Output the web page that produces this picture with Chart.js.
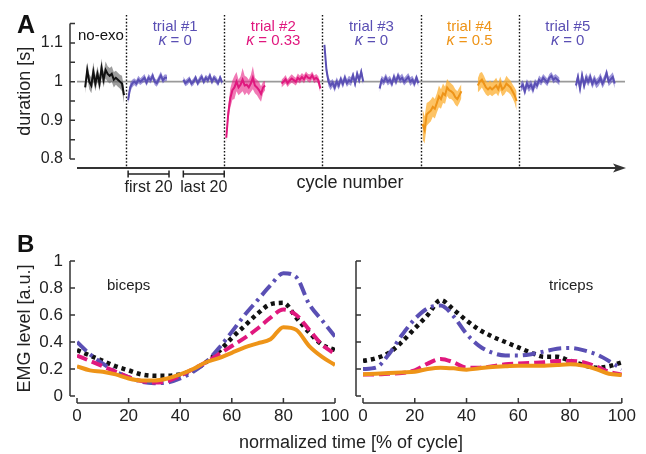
<!DOCTYPE html>
<html>
<head>
<meta charset="utf-8">
<script src="https://cdn.jsdelivr.net/npm/chart.js@4.4.1/dist/chart.umd.min.js"></script>
<style>
  html, body { margin: 0; padding: 0; background: #fff; }
  #wrap { position: relative; width: 646px; height: 454px; }
  canvas { position: absolute; left: 0; top: 0; }
</style>
</head>
<body>
<div id="wrap">
  <canvas id="cycleChart" width="646" height="454"></canvas>
  <canvas id="bicepsChart" width="646" height="454"></canvas>
  <canvas id="tricepsChart" width="646" height="454"></canvas>
</div>
<script>
// ---- cycle durations (panel A) ----
// every trial block is 48 cycle slots wide: first 20 cycles, a gap, last 20 cycles
const trialStarts = [24, 72, 120, 168, 216];
const trialNames = ['trial #1', 'trial #2', 'trial #3', 'trial #4', 'trial #5'];
const trialKappa = ['0', '0.33', '0', '0.5', '0'];

const noExoMean = [0.985, 1.03, 1.0, 0.99, 1.025, 0.995, 1.02, 0.995, 1.035, 1.005, 1.03, 1.02, 1.015, 1.02, 1.005, 1.01, 1.005, 1.0, 0.995, 0.965];
const noExoSpread = [0.015, 0.02, 0.02, 0.02, 0.025, 0.02, 0.02, 0.02, 0.025, 0.02, 0.022, 0.02, 0.02, 0.02, 0.02, 0.018, 0.018, 0.018, 0.02, 0.02];

const t1FirstMean = [0.952, 0.985, 0.995, 1.0, 0.995, 1.005, 1.0, 1.005, 1.01, 0.998, 1.01, 1.004, 1.015, 1.0, 0.996, 1.006, 1.016, 1.004, 1.01, 1.01];
const t1FirstSpread = [0.01, 0.012, 0.01, 0.009, 0.009, 0.01, 0.009, 0.009, 0.01, 0.009, 0.01, 0.009, 0.01, 0.009, 0.009, 0.01, 0.01, 0.009, 0.009, 0.008];
const t1LastMean = [1.005, 0.996, 1.0, 1.006, 0.995, 1.0, 1.01, 0.996, 1.005, 1.012, 1.0, 1.01, 1.004, 1.015, 1.0, 1.01, 1.004, 0.996, 1.01, 0.998];
const t1LastSpread = [0.008, 0.008, 0.009, 0.008, 0.008, 0.009, 0.008, 0.008, 0.009, 0.009, 0.008, 0.008, 0.009, 0.009, 0.008, 0.008, 0.009, 0.008, 0.008, 0.008];

const t2FirstMean = [0.855, 0.92, 0.958, 0.978, 0.985, 1.0, 0.985, 0.992, 1.005, 0.99, 0.992, 0.985, 0.995, 1.01, 0.99, 0.985, 0.978, 0.968, 0.985, 0.99];
const t2FirstSpread = [0.012, 0.02, 0.025, 0.025, 0.03, 0.025, 0.02, 0.022, 0.03, 0.025, 0.02, 0.02, 0.022, 0.03, 0.02, 0.02, 0.022, 0.02, 0.015, 0.012];
const t2LastMean = [0.995, 1.0, 1.006, 0.996, 1.003, 1.008, 1.004, 1.0, 1.01, 1.005, 1.012, 1.006, 1.016, 1.01, 1.008, 1.016, 1.006, 1.01, 1.004, 0.982];
const t2LastSpread = [0.01, 0.01, 0.011, 0.01, 0.01, 0.011, 0.01, 0.01, 0.011, 0.01, 0.01, 0.011, 0.01, 0.01, 0.011, 0.01, 0.01, 0.01, 0.01, 0.012];

const t3FirstMean = [1.095, 1.03, 1.0, 0.99, 0.997, 0.985, 1.0, 0.99, 1.006, 0.994, 1.01, 0.996, 1.004, 1.0, 1.016, 0.995, 1.02, 1.004, 1.025, 1.0];
const t3FirstSpread = [0.008, 0.012, 0.012, 0.012, 0.01, 0.012, 0.011, 0.011, 0.01, 0.011, 0.011, 0.01, 0.011, 0.011, 0.01, 0.011, 0.011, 0.01, 0.011, 0.01];
const t3LastMean = [0.982, 1.005, 1.0, 1.01, 1.0, 1.005, 0.995, 1.012, 1.0, 1.015, 1.005, 1.01, 1.0, 1.006, 1.012, 1.0, 1.005, 0.995, 1.01, 0.996];
const t3LastSpread = [0.01, 0.01, 0.01, 0.011, 0.01, 0.01, 0.01, 0.011, 0.01, 0.01, 0.01, 0.011, 0.01, 0.01, 0.01, 0.011, 0.01, 0.01, 0.01, 0.01];

const t4FirstMean = [0.89, 0.875, 0.915, 0.92, 0.925, 0.935, 0.93, 0.945, 0.962, 0.955, 0.97, 0.965, 0.985, 0.978, 0.975, 0.97, 0.96, 0.955, 0.965, 0.975];
const t4FirstSpread = [0.04, 0.035, 0.03, 0.028, 0.028, 0.026, 0.025, 0.025, 0.028, 0.025, 0.025, 0.022, 0.022, 0.022, 0.02, 0.02, 0.02, 0.02, 0.02, 0.018];
const t4LastMean = [0.99, 1.0, 1.005, 0.995, 0.985, 0.98, 0.985, 0.98, 0.985, 0.99, 0.98, 0.995, 0.98, 0.985, 0.995, 0.99, 0.985, 0.975, 0.965, 0.95];
const t4LastSpread = [0.018, 0.022, 0.02, 0.02, 0.018, 0.018, 0.018, 0.018, 0.018, 0.02, 0.018, 0.018, 0.018, 0.018, 0.02, 0.018, 0.018, 0.018, 0.02, 0.025];

const t5FirstMean = [0.985, 0.992, 0.975, 0.995, 0.985, 0.992, 0.98, 0.996, 0.99, 1.005, 1.0, 1.01, 1.004, 0.998, 1.01, 1.015, 1.005, 1.01, 1.005, 1.0];
const t5FirstSpread = [0.012, 0.012, 0.012, 0.012, 0.012, 0.012, 0.012, 0.011, 0.011, 0.011, 0.01, 0.01, 0.01, 0.01, 0.01, 0.01, 0.01, 0.01, 0.01, 0.01];
const t5LastMean = [0.99, 1.012, 0.982, 1.016, 0.99, 1.01, 1.0, 1.012, 0.994, 1.006, 0.995, 1.0, 1.01, 0.995, 1.005, 1.022, 1.0, 1.006, 1.012, 0.995];
const t5LastSpread = [0.012, 0.012, 0.012, 0.012, 0.012, 0.012, 0.012, 0.012, 0.012, 0.012, 0.012, 0.012, 0.012, 0.012, 0.012, 0.012, 0.012, 0.012, 0.012, 0.012];

// ---- EMG envelopes (panel B), sampled every 5 % of the cycle ----
const cyclePct = [0, 5, 10, 15, 20, 25, 30, 35, 40, 45, 50, 55, 60, 65, 70, 75, 80, 85, 90, 95, 100];

const bicepsNoExo = [0.34, 0.30, 0.26, 0.22, 0.19, 0.16, 0.15, 0.15, 0.16, 0.19, 0.25, 0.33, 0.43, 0.52, 0.61, 0.68, 0.69, 0.58, 0.47, 0.38, 0.34];
const bicepsK0 = [0.40, 0.31, 0.24, 0.18, 0.14, 0.105, 0.095, 0.10, 0.13, 0.18, 0.25, 0.355, 0.475, 0.60, 0.71, 0.82, 0.91, 0.88, 0.68, 0.56, 0.44];
const bicepsK033 = [0.30, 0.26, 0.22, 0.18, 0.14, 0.11, 0.10, 0.11, 0.15, 0.20, 0.25, 0.31, 0.37, 0.43, 0.50, 0.58, 0.64, 0.60, 0.49, 0.38, 0.31];
const bicepsK05 = [0.22, 0.19, 0.18, 0.16, 0.13, 0.115, 0.115, 0.13, 0.16, 0.20, 0.25, 0.28, 0.32, 0.36, 0.39, 0.42, 0.51, 0.49, 0.37, 0.29, 0.23];

const tricepsNoExo = [0.26, 0.28, 0.32, 0.40, 0.50, 0.60, 0.71, 0.64, 0.56, 0.49, 0.44, 0.40, 0.36, 0.32, 0.29, 0.29, 0.26, 0.23, 0.21, 0.22, 0.25];
const tricepsK0 = [0.20, 0.21, 0.31, 0.45, 0.57, 0.65, 0.67, 0.59, 0.46, 0.37, 0.32, 0.30, 0.30, 0.31, 0.33, 0.35, 0.355, 0.34, 0.31, 0.26, 0.20];
const tricepsK033 = [0.16, 0.16, 0.165, 0.17, 0.19, 0.24, 0.275, 0.25, 0.21, 0.21, 0.22, 0.235, 0.24, 0.245, 0.25, 0.26, 0.26, 0.25, 0.22, 0.18, 0.16];
const tricepsK05 = [0.16, 0.165, 0.17, 0.175, 0.18, 0.20, 0.21, 0.205, 0.195, 0.205, 0.215, 0.22, 0.225, 0.225, 0.225, 0.23, 0.235, 0.225, 0.20, 0.165, 0.155];

const FONT = "'Liberation Sans', Arial, Helvetica, sans-serif";
const INK = '#222';
const AXIS = '#333';
const PURPLE = '#5a4fb4';
const PINK = '#e0187e';
const ORANGE = '#ee9418';
const BAND = {
  black: 'rgba(105,105,105,0.65)',
  purple: 'rgba(100,88,195,0.62)',
  pink: 'rgba(230,40,135,0.62)',
  orange: 'rgba(252,172,40,0.72)'
};
Chart.defaults.font.family = FONT;
Chart.defaults.color = INK;

function segment(mean, spread, start, line, band) {
  const pts = f => mean.map((v, i) => ({ x: start + i, y: f(v, spread[i]) }));
  return [
    { data: pts((v, s) => v + s), borderWidth: 0, pointRadius: 0, backgroundColor: band, fill: '+1', order: 3 },
    { data: pts((v, s) => v - s), borderWidth: 0, pointRadius: 0, fill: false, order: 3 },
    { data: pts(v => v), borderColor: line, borderWidth: 2, pointRadius: 0, fill: false, order: 1 }
  ];
}

const trialColors = [PURPLE, PINK, PURPLE, ORANGE, PURPLE];
const trialBands = [BAND.purple, BAND.pink, BAND.purple, BAND.orange, BAND.purple];
const firstMeans = [t1FirstMean, t2FirstMean, t3FirstMean, t4FirstMean, t5FirstMean];
const firstSpreads = [t1FirstSpread, t2FirstSpread, t3FirstSpread, t4FirstSpread, t5FirstSpread];
const lastMeans = [t1LastMean, t2LastMean, t3LastMean, t4LastMean, t5LastMean];
const lastSpreads = [t1LastSpread, t2LastSpread, t3LastSpread, t4LastSpread, t5LastSpread];
const FIRST_OFF = 1, LAST_OFF = 28;

const cycleSets = [
  { data: [{ x: 0, y: 1 }, { x: 268, y: 1 }], borderColor: '#9a9a9a', borderWidth: 1.6, pointRadius: 0, fill: false, order: 9 },
  ...segment(noExoMean, noExoSpread, 4, '#111', BAND.black)
];
trialStarts.forEach((s, k) => {
  cycleSets.push(...segment(firstMeans[k], firstSpreads[k], s + FIRST_OFF, trialColors[k], trialBands[k]));
  cycleSets.push(...segment(lastMeans[k], lastSpreads[k], s + LAST_OFF, trialColors[k], trialBands[k]));
});

function txt(ctx, s, x, y, font, color, align) {
  ctx.font = font;
  ctx.fillStyle = color;
  ctx.textAlign = align || 'left';
  ctx.textBaseline = 'alphabetic';
  ctx.fillText(s, x, y);
}

// offset y axis with inward tick marks
function drawYAxis(ctx, scale, area) {
  const ax = area.left - 7;
  ctx.save();
  ctx.strokeStyle = AXIS;
  ctx.lineWidth = 1.5;
  ctx.beginPath();
  ctx.moveTo(ax, scale.getPixelForValue(scale.max));
  ctx.lineTo(ax, scale.getPixelForValue(scale.min));
  scale.ticks.forEach(t => {
    const py = scale.getPixelForValue(t.value);
    ctx.moveTo(ax, py);
    ctx.lineTo(ax + 5, py);
  });
  ctx.stroke();
  ctx.restore();
}

const cycleDecor = {
  id: 'cycleDecor',
  beforeDatasetsDraw(chart) {
    const { ctx, scales: { x } } = chart;
    ctx.save();
    ctx.strokeStyle = '#111';
    ctx.lineWidth = 1.4;
    ctx.setLineDash([1.6, 1.8]);
    trialStarts.forEach(s => {
      const px = Math.round(x.getPixelForValue(s)) + 0.5;
      ctx.beginPath();
      ctx.moveTo(px, 15);
      ctx.lineTo(px, 168);
      ctx.stroke();
    });
    ctx.restore();
  },
  afterDraw(chart) {
    const { ctx, chartArea: area, scales: { x, y } } = chart;
    drawYAxis(ctx, y, area);

    // cycle axis with arrow head
    ctx.save();
    ctx.strokeStyle = AXIS;
    ctx.fillStyle = AXIS;
    ctx.lineWidth = 2.2;
    ctx.beginPath();
    ctx.moveTo(area.left, 168);
    ctx.lineTo(area.right - 8, 168);
    ctx.stroke();
    ctx.beginPath();
    ctx.moveTo(area.right + 1, 168);
    ctx.lineTo(area.right - 12, 163.5);
    ctx.lineTo(area.right - 9, 168);
    ctx.lineTo(area.right - 12, 172.5);
    ctx.closePath();
    ctx.fill();

    // brackets under the first trial
    ctx.lineWidth = 1.5;
    ctx.strokeStyle = '#222';
    [trialStarts[0] + FIRST_OFF, trialStarts[0] + LAST_OFF].forEach(s => {
      const a = x.getPixelForValue(s), b = x.getPixelForValue(s + 20);
      ctx.beginPath();
      ctx.moveTo(a, 174); ctx.lineTo(b, 174);
      ctx.moveTo(a, 170.5); ctx.lineTo(a, 177.5);
      ctx.moveTo(b, 170.5); ctx.lineTo(b, 177.5);
      ctx.stroke();
    });
    ctx.restore();

    const f1 = x.getPixelForValue(trialStarts[0] + FIRST_OFF + 10);
    const l1 = x.getPixelForValue(trialStarts[0] + LAST_OFF + 10);
    txt(ctx, 'first 20', f1, 192, '16px ' + FONT, INK, 'center');
    txt(ctx, 'last 20', l1, 192, '16px ' + FONT, INK, 'center');
    txt(ctx, 'cycle number', 350, 188, '18px ' + FONT, INK, 'center');

    txt(ctx, 'no-exo', 78, 40, '15px ' + FONT, '#111', 'left');
    trialStarts.forEach((s, k) => {
      const cx = x.getPixelForValue(s + 24);
      txt(ctx, trialNames[k], cx, 31, '15px ' + FONT, trialColors[k], 'center');
      ctx.font = 'italic 16px ' + FONT;
      const wk = ctx.measureText('\u03BA').width;
      ctx.font = '15px ' + FONT;
      const rest = ' = ' + trialKappa[k];
      const wr = ctx.measureText(rest).width;
      const x0 = cx - (wk + wr) / 2;
      txt(ctx, '\u03BA', x0, 45, 'italic 16px ' + FONT, trialColors[k], 'left');
      txt(ctx, rest, x0 + wk, 45, '15px ' + FONT, trialColors[k], 'left');
    });

    txt(ctx, 'A', 17, 33, 'bold 25px ' + FONT, '#111', 'left');
  }
};

new Chart(document.getElementById('cycleChart'), {
  type: 'line',
  data: { datasets: cycleSets },
  options: {
    responsive: false,
    animation: false,
    events: [],
    layout: { padding: { top: 23, bottom: 295, right: 21, left: 0 } },
    plugins: { legend: { display: false }, tooltip: { enabled: false } },
    scales: {
      x: { type: 'linear', min: 0, max: 268, display: false },
      y: {
        min: 0.8, max: 1.15,
        afterFit: s => { s.width = 77; },
        grid: { display: false, drawTicks: false },
        border: { display: false },
        ticks: {
          stepSize: 0.05, autoSkip: false, padding: 14,
          font: { size: 16 }, color: INK,
          callback: v => Math.abs(v * 10 - Math.round(v * 10)) < 1e-6 ? String(Math.round(v * 10) / 10) : ''
        },
        title: { display: true, text: 'duration [s]', font: { size: 18 }, color: INK, padding: { top: 14 } }
      }
    }
  },
  plugins: [cycleDecor]
});

// ---- EMG panels ----
function emgLine(vals, color, dash, width) {
  return {
    data: vals.map((v, i) => ({ x: cyclePct[i], y: v })),
    borderColor: color, borderWidth: width, borderDash: dash, borderCapStyle: 'butt',
    pointRadius: 0, fill: false, cubicInterpolationMode: 'monotone'
  };
}

function emgSets(noExo, k0, k033, k05) {
  return [
    emgLine(k05, ORANGE, [], 4),
    emgLine(k033, PINK, [11, 5], 4),
    emgLine(k0, PURPLE, [13, 5, 3, 5], 4),
    emgLine(noExo, '#111', [4, 4], 4.5)
  ];
}

function emgDecor(id, label, labelX, extra) {
  return {
    id,
    afterDraw(chart) {
      const { ctx, chartArea: area, scales: { x, y } } = chart;
      drawYAxis(ctx, y, area);
      const ay = area.bottom + 7;
      ctx.save();
      ctx.strokeStyle = AXIS;
      ctx.lineWidth = 1.5;
      ctx.beginPath();
      ctx.moveTo(x.getPixelForValue(x.min), ay);
      ctx.lineTo(x.getPixelForValue(x.max), ay);
      x.ticks.forEach(t => {
        const px = x.getPixelForValue(t.value);
        ctx.moveTo(px, ay);
        ctx.lineTo(px, ay - 5);
      });
      ctx.stroke();
      ctx.restore();
      txt(ctx, label, labelX, 290, '15px ' + FONT, INK, 'left');
      if (extra) extra(ctx);
    }
  };
}

function emgOptions(padLeftWidth, padRight, showY) {
  return {
    responsive: false,
    animation: false,
    events: [],
    layout: { padding: { top: 261, bottom: 28, right: padRight, left: 0 } },
    plugins: { legend: { display: false }, tooltip: { enabled: false } },
    scales: {
      x: {
        type: 'linear', min: 0, max: 100,
        afterFit: s => { s.height = 30; },
        grid: { display: false, drawTicks: false },
        border: { display: false },
        ticks: { stepSize: 20, padding: 10, font: { size: 17 }, color: INK }
      },
      y: {
        min: 0, max: 1,
        afterFit: s => { s.width = padLeftWidth; },
        grid: { display: false, drawTicks: false },
        border: { display: false },
        ticks: {
          display: showY, stepSize: 0.2, padding: 14, font: { size: 17 }, color: INK,
          callback: v => String(+v.toFixed(2))
        },
        title: { display: showY, text: 'EMG level [a.u.]', font: { size: 18 }, color: INK, padding: { top: 14 } }
      }
    }
  };
}

new Chart(document.getElementById('bicepsChart'), {
  type: 'line',
  data: { datasets: emgSets(bicepsNoExo, bicepsK0, bicepsK033, bicepsK05) },
  options: emgOptions(77, 311, true),
  plugins: [emgDecor('bicepsDecor', 'biceps', 107, ctx => {
    txt(ctx, 'B', 17, 252, 'bold 24px ' + FONT, '#111', 'left');
    txt(ctx, 'normalized time [% of cycle]', 351, 448, '18px ' + FONT, INK, 'center');
  })]
});

new Chart(document.getElementById('tricepsChart'), {
  type: 'line',
  data: { datasets: emgSets(tricepsNoExo, tricepsK0, tricepsK033, tricepsK05) },
  options: emgOptions(363, 23, false),
  plugins: [emgDecor('tricepsDecor', 'triceps', 549, null)]
});
</script>
</body>
</html>
